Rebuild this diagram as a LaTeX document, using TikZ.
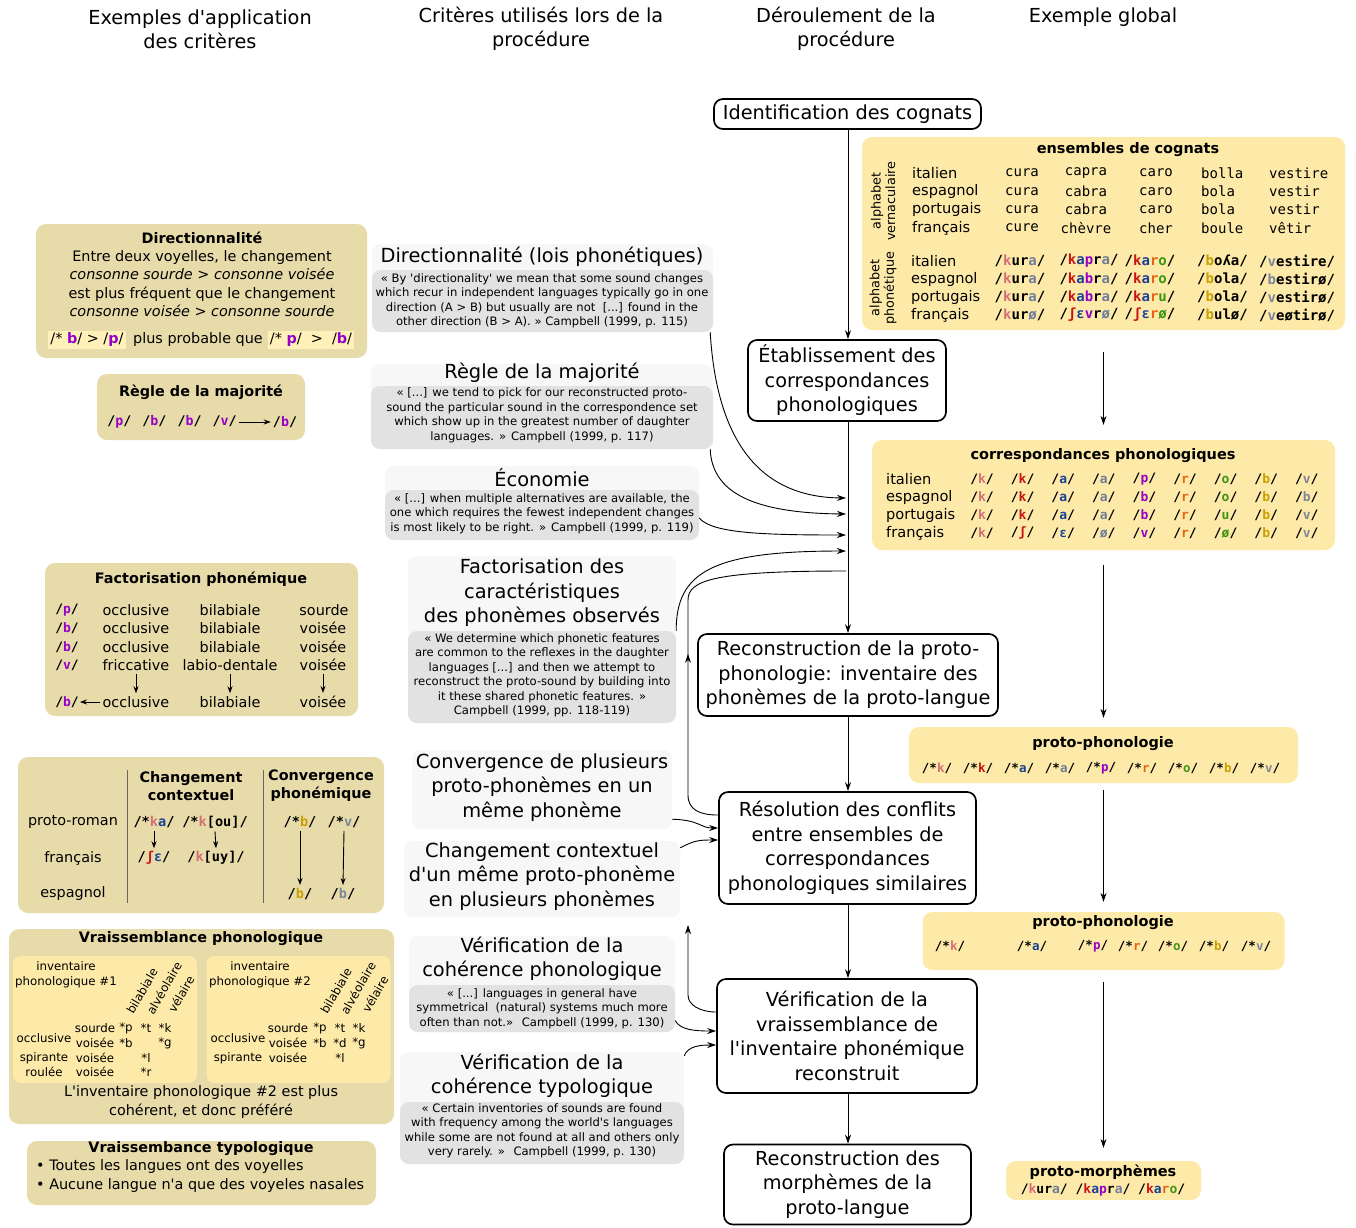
\documentclass[tikz,border=0pt]{standalone}
\usepackage{fontspec}
\setmainfont{DejaVu Sans}
\newfontfamily\monof{DejaVu Sans Mono}
\usetikzlibrary{arrows.meta,decorations.markings}
\definecolor{tanbg}{RGB}{232,219,170}
\definecolor{yelbg}{RGB}{254,234,168}
\definecolor{hlbg}{RGB}{255,241,185}
\definecolor{ttlbg}{RGB}{247,247,247}
\definecolor{qbg}{RGB}{226,226,226}
\definecolor{cKa}{RGB}{214,110,120}
\definecolor{cKb}{RGB}{200,20,20}
\definecolor{cAa}{RGB}{25,65,150}
\definecolor{cAb}{RGB}{110,125,155}
\definecolor{cP}{RGB}{150,0,200}
\definecolor{cR}{RGB}{230,100,20}
\definecolor{cO}{RGB}{60,150,20}
\definecolor{cB}{RGB}{200,160,0}
\definecolor{cV}{RGB}{125,135,155}
\newcommand\fsz[2]{\fontsize{#1}{#2}\selectfont}
\newcommand\cc[2]{\textcolor{#1}{#2}}
\newcommand\q{\textquotesingle}
\newcommand\crow[4]{\foreach \t [count=\j] in {#4} {\node[phc] (#1-\j) at ({#2+40.6*\j},#3) {/\t/};}}
\begin{document}
\begin{tikzpicture}[x=1pt,y=-1pt,
  hdr/.style={align=center, font=\fsz{19.3}{24}, inner sep=0pt},
  flow/.style={draw, line width=1.7pt, rounded corners=9pt, fill=white, align=center, font=\fsz{19.3}{24.5}, inner sep=0pt},
  tanbox/.style={fill=tanbg, rounded corners=10pt, inner sep=0pt},
  yelbox/.style={fill=yelbg, rounded corners=10pt, inner sep=0pt},
  ttlbox/.style={fill=ttlbg, rounded corners=9pt, inner sep=0pt},
  qbox/.style={fill=qbg, rounded corners=9pt, inner sep=0pt},
  ctitle/.style={align=center, font=\fsz{19.4}{24.5}, inner sep=0pt},
  qtext/.style={align=center, font=\fsz{11.6}{14.5}, inner sep=0pt},
  ltxt/.style={align=center, font=\fsz{14.4}{18.3}, inner sep=0pt},
  lbold/.style={align=center, font=\fsz{14.4}{18}\bfseries, inner sep=0pt},
  rbold/.style={align=center, font=\fsz{14.5}{18}\bfseries, inner sep=0pt},
  rtxt/.style={font=\fsz{14.6}{18}, inner sep=0pt},
  small/.style={align=center, font=\fsz{11.8}{15}, inner sep=0pt},
  rlab/.style={align=center, font=\fsz{12.8}{14.5}, inner sep=0pt},
  phl/.style={font=\monof\bfseries\fsz{13}{16}, inner sep=0pt},
  phk/.style={font=\monof\bfseries\fsz{13.6}{16}, inner sep=0pt},
  phc/.style={font=\monof\bfseries\fsz{13}{16}, inner sep=0pt},
  php/.style={font=\monof\bfseries\fsz{12.5}{16}, inner sep=0pt},
  vern/.style={font=\monof\fsz{14}{18}, inner sep=0pt},
  phb/.style={font=\monof\bfseries\fsz{14}{18}, inner sep=0pt},
  arr/.style={-{Stealth[length=9pt,width=6pt]}, line width=0.9pt},
  arrs/.style={-{Stealth[length=7pt,width=5pt]}, line width=0.9pt},
  midarr/.style={decoration={markings, mark=at position #1 with {\arrow{Stealth[length=9pt,width=6pt]}}}, postaction={decorate}}
]
\useasboundingbox (0,0) rectangle (1356,1227);

% ---------------- headers
\node[hdr] (h1) at (200,29) {Exemples d\q application\\des critères};
\node[hdr] (h2) at (541,29) {Critères utilisés lors de la\\procédure};
\node[hdr] (h3) at (846,29) {Déroulement de la\\procédure};
\node[hdr] (h4) at (1103,17) {Exemple global};

% ---------------- flow column
\node[flow, minimum width=267, minimum height=30] (f1) at (847.5,114) {Identification des cognats};
\node[flow, minimum width=198, minimum height=81] (f2) at (847,380.5) {Établissement des\\correspondances\\phonologiques};
\node[flow, minimum width=300, minimum height=82] (f3) at (848,675) {Reconstruction de la proto-\\phonologie: inventaire des\\phonèmes de la proto-langue};
\node[flow, minimum width=257, minimum height=112] (f4) at (847.5,848) {Résolution des conflits\\entre ensembles de\\correspondances\\phonologiques similaires};
\node[flow, minimum width=260, minimum height=114] (f5) at (847,1036) {Vérification de la\\vraissemblance de\\l\q inventaire phonémique\\reconstruit};
\node[flow, minimum width=247, minimum height=80] (f6) at (847.5,1184.5) {Reconstruction des\\morphèmes de la\\proto-langue};

\draw[arr] (f1.south -| 848,0) -- (f2.north -| 848,0);
\draw[arr] (f2.south -| 848,0) -- (f3.north -| 848,0);
\draw[arr] (f3.south -| 848,0) -- (f4.north -| 848,0);
\draw[arr] (f4.south -| 848,0) -- (f5.north -| 848,0);
\draw[arr] (f5.south -| 848,0) -- (f6.north -| 848,0);

% ---------------- criteria column
\node[ttlbox, minimum width=341, minimum height=88] (cdir) at (542.5,288) {};
\node[qbox, minimum width=341, minimum height=62] (cdirq) at (542.5,301) {};
\node[ctitle] (cdirt) at (542,257) {Directionnalité (lois phonétiques)};
\node[qtext] (cdirx) at (542,301) {« By \q directionality\q{} we mean that some sound changes\\which recur in independent languages typically go in one\\direction (A > B) but usually are not \ [...] found in the\\other direction (B > A). » Campbell (1999, p. 115)};

\node[ttlbox, minimum width=342, minimum height=85] (cmaj) at (542,406.5) {};
\node[qbox, minimum width=342, minimum height=63] (cmajq) at (542,417.5) {};
\node[ctitle] (cmajt) at (542,373) {Règle de la majorité};
\node[qtext] (cmajx) at (542,415.5) {« [...] we tend to pick for our reconstructed proto-\\sound the particular sound in the correspondence set\\which show up in the greatest number of daughter\\languages. » Campbell (1999, p. 117)};

\node[ttlbox, minimum width=314, minimum height=74] (ceco) at (542,503) {};
\node[qbox, minimum width=314, minimum height=50] (cecoq) at (542,515) {};
\node[ctitle] (cecot) at (542,478) {Économie};
\node[qtext] (cecox) at (542,513.5) {« [...] when multiple alternatives are available, the\\one which requires the fewest independent changes\\is most likely to be right. » Campbell (1999, p. 119)};

\node[ttlbox, minimum width=268, minimum height=167] (cfac) at (542,639.5) {};
\node[qbox, minimum width=268, minimum height=92] (cfacq) at (542,677) {};
\node[ctitle] (cfact) at (542,593) {Factorisation des\\caractéristiques\\des phonèmes observés};
\node[qtext] (cfacx) at (542,675.5) {« We determine which phonetic features\\are common to the reflexes in the daughter\\languages [...] and then we attempt to\\reconstruct the proto-sound by building into\\it these shared phonetic features. »\\Campbell (1999, pp. 118-119)};

\node[ttlbox, minimum width=260, minimum height=79] (cconv) at (542,789.5) {};
\node[ctitle] (cconvt) at (542,787.5) {Convergence de plusieurs\\proto-phonèmes en un\\même phonème};

\node[ttlbox, minimum width=276, minimum height=76] (cchg) at (542,879) {};
\node[ctitle] (cchgt) at (542,876.5) {Changement contextuel\\d\q un même proto-phonème\\en plusieurs phonèmes};

\node[ttlbox, minimum width=266, minimum height=96] (cvph) at (542,984) {};
\node[qbox, minimum width=266, minimum height=47] (cvphq) at (542,1008.5) {};
\node[ctitle] (cvpht) at (542,958.5) {Vérification de la\\cohérence phonologique};
\node[qtext] (cvphx) at (542,1008.5) {« [...] languages in general have\\symmetrical \ (natural) systems much more\\often than not.» \ Campbell (1999, p. 130)};

\node[ttlbox, minimum width=284, minimum height=112] (cvty) at (542,1108) {};
\node[qbox, minimum width=284, minimum height=62] (cvtyq) at (542,1133) {};
\node[ctitle] (cvtyt) at (542,1075.5) {Vérification de la\\cohérence typologique};
\node[qtext] (cvtyx) at (542,1131) {« Certain inventories of sounds are found\\with frequency among the world\q s languages\\while some are not found at all and others only\\very rarely. » \ Campbell (1999, p. 130)};

% connectors from criteria
\coordinate (j1) at (846,498);
\coordinate (j2) at (846,514);
\coordinate (j3) at (846,535);
\coordinate (j4) at (846,551);
\coordinate (j5) at (846,571);
\draw[arr] ([xshift=-3pt]cdirq.south east) .. controls (716,430) and (752,497) .. (j1);
\draw[arr] ([xshift=-3pt]cmajq.south east) .. controls (712,492) and (752,513) .. (j2);
\draw[arr] ([yshift=-3pt]cecoq.east) .. controls (712,533) and (760,535) .. (j3);
\draw[arr] (cfacq.north east) .. controls (676,572) and (712,551) .. (j4);
\draw[arr] ([yshift=10pt]cconv.south east) .. controls (700,820) and (700,828) .. ([yshift=20pt]f4.west);
\draw[arr] ([yshift=-7pt]cchg.north east) .. controls (695,840) and (700,840) .. ([yshift=8pt]f4.west);
\draw[arr] ([yshift=-12pt]cvphq.east) .. controls (680,1030) and (695,1031) .. ([yshift=5pt]f5.west);
\draw[arr] ([yshift=-4pt]cvty.north east) .. controls (688,1046) and (700,1045) .. ([yshift=-9pt]f5.west);
% feedback
\draw[line width=0.9pt, midarr=0.45] ([yshift=33pt]f4.west) .. controls (700,815) and (688,810) .. (688,795) -- (688,600) .. controls (688,580) and (715,571) .. (j5);
\draw[arr] ([yshift=24pt]f5.west) .. controls (700,1012) and (688,1005) .. (688,995) -- (688,925);

% ---------------- left column
\node[tanbox, minimum width=331, minimum height=134] (ldir) at (201.5,291) {};
\node[lbold] (ldirt) at (202,238) {Directionnalité};
\node[ltxt] (ldirx) at (202,283.5) {Entre deux voyelles, le changement\\\textit{consonne sourde > consonne voisée}\\est plus fréquent que le changement\\\textit{consonne voisée > consonne sourde}};
\node[fill=hlbg, inner sep=2pt, font=\fsz{14.4}{16}] (hla) at (87,340) {/* \cc{cP}{\textbf{b}}/ > /\cc{cP}{\textbf{p}}/};
\node[font=\fsz{14.4}{16}, inner sep=0pt] (hlplus) at (198,340) {plus probable que};
\node[fill=hlbg, inner sep=2pt, font=\fsz{14.4}{16}] (hlb) at (311,340) {/* \cc{cP}{\textbf{p}}/ \ > \ /\cc{cP}{\textbf{b}}/};

\node[tanbox, minimum width=208, minimum height=66] (lmaj) at (201,407) {};
\node[lbold] (lmajt) at (201,392) {Règle de la majorité};
\node[phl, font=\monof\bfseries\fsz{13.3}{16}] (lmajl) at (172,422) {/\cc{cP}{p}/\hspace{11pt}/\cc{cP}{b}/\hspace{11pt}/\cc{cP}{b}/\hspace{11pt}/\cc{cP}{v}/};
\node[phl, font=\monof\bfseries\fsz{13.3}{16}] (lmajr) at (285,422) {/\cc{cP}{b}/};
\draw[arrs] ([xshift=2pt]lmajl.east) -- ([xshift=-2pt]lmajr.west);

\node[tanbox, minimum width=313, minimum height=153] (lfac) at (201.5,639.5) {};
\node[lbold] (lfact) at (201,579) {Factorisation phonémique};
\node[phl] (fp1) at (67,610) {/\cc{cP}{p}/};
\node[phl] (fp2) at (67,628) {/\cc{cP}{b}/};
\node[phl] (fp3) at (67,647) {/\cc{cP}{b}/};
\node[phl] (fp4) at (67,665) {/\cc{cP}{v}/};
\node[phl] (fp5) at (67,702) {/\cc{cP}{b}/};
\node[ltxt] (fo1) at (136,610) {occlusive};
\node[ltxt] (fo2) at (136,628) {occlusive};
\node[ltxt] (fo3) at (136,647) {occlusive};
\node[ltxt] (fo4) at (136,665) {friccative};
\node[ltxt] (fo5) at (136,702) {occlusive};
\node[ltxt] (fb1) at (230,610) {bilabiale};
\node[ltxt] (fb2) at (230,628) {bilabiale};
\node[ltxt] (fb3) at (230,647) {bilabiale};
\node[ltxt] (fb4) at (230,665) {labio-dentale};
\node[ltxt] (fb5) at (230,702) {bilabiale};
\node[ltxt] (fs1) at (324,610) {sourde};
\node[ltxt] (fs2) at (323,628) {voisée};
\node[ltxt] (fs3) at (323,647) {voisée};
\node[ltxt] (fs4) at (323,665) {voisée};
\node[ltxt] (fs5) at (323,702) {voisée};
\draw[arrs] ([yshift=-3pt]fo4.south) -- ([yshift=3pt]fo5.north);
\draw[arrs] ([yshift=-3pt]fb4.south) -- ([yshift=3pt]fb5.north);
\draw[arrs] ([yshift=-3pt]fs4.south) -- ([yshift=3pt]fs5.north);
\draw[arrs] ([xshift=-2pt]fo5.west) -- ([xshift=1pt]fp5.east);

\node[tanbox, minimum width=366, minimum height=156] (lchg) at (201,835) {};
\draw[line width=1pt, black!60] (127,770) -- (127,903);
\draw[line width=1pt, black!60] (263,770) -- (263,903);
\node[lbold] (lchgt) at (191,786) {Changement\\contextuel};
\node[lbold] (lcvgt) at (321,786) {Convergence\\phonémique};
\node[ltxt] (lpr) at (73,822) {proto-roman};
\node[ltxt] (lfr) at (73,858) {français};
\node[ltxt] (les) at (73,894) {espagnol};
\node[phk] (n1) at (154,822) {/*\cc{cKa}{k}\cc{cAa}{a}/};
\node[phk] (n2) at (215,822) {/*\cc{cKa}{k}[ou]/};
\node[phk] (n3) at (154,858) {/\cc{cKb}{ʃ}\cc{cAa}{ɛ}/};
\node[phk] (n4) at (216,858) {/\cc{cKa}{k}[uy]/};
\node[phk] (n5) at (300,822) {/*\cc{cB}{b}/};
\node[phk] (n6) at (344,822) {/*\cc{cV}{v}/};
\node[phk] (n7) at (300,894) {/\cc{cB}{b}/};
\node[phk] (n8) at (343,894) {/\cc{cV}{b}/};
\draw[arrs] ([yshift=-3pt]n1.south) -- ([yshift=3pt]n3.north);
\draw[arrs] ([yshift=-3pt]n2.south) -- ([yshift=3pt]n4.north);
\draw[arrs] ([yshift=-3pt]n5.south) -- ([yshift=3pt]n7.north);
\draw[arrs] ([yshift=-3pt]n6.south) -- ([yshift=3pt]n8.north);

\node[tanbox, minimum width=385, minimum height=195] (lvph) at (201.5,1026.5) {};
\node[lbold] (lvpht) at (201,939) {Vraissemblance phonologique};
\node[yelbox, rounded corners=8pt, minimum width=184, minimum height=127] (inv1) at (105,1019.5) {};
\node[yelbox, rounded corners=8pt, minimum width=184, minimum height=127] (inv2) at (298.5,1019.5) {};
\node[small] (i1t) at (66,974.5) {inventaire\\phonologique \#1};
\node[small, rotate=60] (i1a) at (142,991) {bilabiale};
\node[small, rotate=60] (i1b) at (164,988) {alvéolaire};
\node[small, rotate=60] (i1c) at (181,994) {vélaire};
\node[small] (i1r1) at (44,1038) {occlusive};
\node[small] (i1r2) at (44,1058) {spirante};
\node[small] (i1r3) at (44,1072) {roulée};
\node[small] (i1s1) at (95,1028) {sourde};
\node[small] (i1s2) at (95,1043) {voisée};
\node[small] (i1s3) at (95,1058) {voisée};
\node[small] (i1s4) at (95,1072) {voisée};
\node[small] (i1p) at (126,1028) {*p};
\node[small] (i1t2) at (146,1028) {*t};
\node[small] (i1k) at (165,1028) {*k};
\node[small] (i1b2) at (126,1043) {*b};
\node[small] (i1g) at (165,1043) {*g};
\node[small] (i1l) at (146,1058) {*l};
\node[small] (i1rr) at (146,1072) {*r};
\node[small] (i2t) at (260,974.5) {inventaire\\phonologique \#2};
\node[small, rotate=60] (i2a) at (336,991) {bilabiale};
\node[small, rotate=60] (i2b) at (358,988) {alvéolaire};
\node[small, rotate=60] (i2c) at (375,994) {vélaire};
\node[small] (i2r1) at (238,1038) {occlusive};
\node[small] (i2r2) at (238,1058) {spirante};
\node[small] (i2s1) at (288,1028) {sourde};
\node[small] (i2s2) at (288,1043) {voisée};
\node[small] (i2s3) at (288,1058) {voisée};
\node[small] (i2p) at (320,1028) {*p};
\node[small] (i2t2) at (340,1028) {*t};
\node[small] (i2k) at (359,1028) {*k};
\node[small] (i2b2) at (320,1043) {*b};
\node[small] (i2d) at (340,1043) {*d};
\node[small] (i2g) at (359,1043) {*g};
\node[small] (i2l) at (340,1058) {*l};
\node[ltxt] (lvphx) at (201,1102) {L\q inventaire phonologique \#2 est plus\\cohérent, et donc préféré};

\node[tanbox, minimum width=349, minimum height=64] (lvty) at (201.5,1173) {};
\node[lbold] (lvtyt) at (201,1149) {Vraissembance typologique};
\node[ltxt, anchor=west] (lvty1) at (36,1167) {• Toutes les langues ont des voyelles};
\node[ltxt, anchor=west] (lvty2) at (36,1186) {• Aucune langue n\q a que des voyeles nasales};

% ---------------- right column
\node[yelbox, minimum width=483, minimum height=193] (cog) at (1103.5,233.5) {};
\node[rbold] (cogt) at (1128,150) {ensembles de cognats};
\node[rlab, rotate=90] (cogva) at (883,201) {alphabet\\vernaculaire};
\node[rlab, rotate=90] (cogph) at (883,288) {alphabet\\phonétique};
\foreach \l/\a/\b/\c/\d/\e [count=\i] in {italien/cura/capra/caro/bolla/vestire, espagnol/cura/cabra/caro/bola/vestir, portugais/cura/cabra/caro/bola/vestir, français/cure/chèvre/cher/boule/vêtir} {
  \pgfmathsetmacro\yy{154.7+18.3*\i}
  \node[rtxt, anchor=west] (vl\i) at (912,\yy) {\l};
  \node[vern] (va\i) at (1022,\yy) {\a};
  \node[vern] (vb\i) at (1086,\yy) {\b};
  \node[vern] (vc\i) at (1156,\yy) {\c};
  \node[vern, anchor=west] (vd\i) at (1201,\yy) {\d};
  \node[vern, anchor=west] (ve\i) at (1269,\yy) {\e};
}
\foreach \l/\a/\b/\c/\d/\e [count=\i] in {
  italien/{\cc{cKa}{k}ur\cc{cAb}{a}}/{\cc{cKb}{k}\cc{cAa}{a}\cc{cP}{p}r\cc{cAb}{a}}/{\cc{cKb}{k}\cc{cAa}{a}\cc{cR}{r}\cc{cO}{o}}/{\cc{cB}{b}oʎa}/{\cc{cV}{v}estire},
  espagnol/{\cc{cKa}{k}ur\cc{cAb}{a}}/{\cc{cKb}{k}\cc{cAa}{a}\cc{cP}{b}r\cc{cAb}{a}}/{\cc{cKb}{k}\cc{cAa}{a}\cc{cR}{r}\cc{cO}{o}}/{\cc{cB}{b}ola}/{\cc{cV}{b}estirø},
  portugais/{\cc{cKa}{k}ur\cc{cAb}{a}}/{\cc{cKb}{k}\cc{cAa}{a}\cc{cP}{b}r\cc{cAb}{a}}/{\cc{cKb}{k}\cc{cAa}{a}\cc{cR}{r}\cc{cO}{u}}/{\cc{cB}{b}ola}/{\cc{cV}{v}estirø},
  français/{\cc{cKa}{k}ur\cc{cAb}{ø}}/{\cc{cKb}{ʃ}\cc{cAa}{ɛ}\cc{cP}{v}r\cc{cAb}{ø}}/{\cc{cKb}{ʃ}\cc{cAa}{ɛ}\cc{cR}{r}\cc{cO}{ø}}/{\cc{cB}{b}ulø}/{\cc{cV}{v}eøtirø}} {
  \pgfmathsetmacro\yy{243+18*\i}
  \node[rtxt, anchor=west] (pl\i) at (911,\yy) {\l};
  \node[phb] (pa\i) at (1020,\yy) {/\a/};
  \node[phb] (pb\i) at (1089,\yy) {/\b/};
  \node[phb] (pc\i) at (1150,\yy) {/\c/};
  \node[phb, anchor=west] (pd\i) at (1197,\yy) {/\d/};
  \node[phb, anchor=west] (pe\i) at (1259,\yy) {/\e/};
}

\node[yelbox, minimum width=463, minimum height=110] (corr) at (1103.5,495) {};
\node[rbold] (corrt) at (1103,456) {correspondances phonologiques};
\node[rtxt, anchor=west] (cl1) at (886,479) {italien};
\node[rtxt, anchor=west] (cl2) at (886,497) {espagnol};
\node[rtxt, anchor=west] (cl3) at (886,515) {portugais};
\node[rtxt, anchor=west] (cl4) at (886,533) {français};
\crow{cra}{941.4}{479}{{\cc{cKa}{k}},{\cc{cKb}{k}},{\cc{cAa}{a}},{\cc{cAb}{a}},{\cc{cP}{p}},{\cc{cR}{r}},{\cc{cO}{o}},{\cc{cB}{b}},{\cc{cV}{v}}}
\crow{crb}{941.4}{497}{{\cc{cKa}{k}},{\cc{cKb}{k}},{\cc{cAa}{a}},{\cc{cAb}{a}},{\cc{cP}{b}},{\cc{cR}{r}},{\cc{cO}{o}},{\cc{cB}{b}},{\cc{cV}{b}}}
\crow{crc}{941.4}{515}{{\cc{cKa}{k}},{\cc{cKb}{k}},{\cc{cAa}{a}},{\cc{cAb}{a}},{\cc{cP}{b}},{\cc{cR}{r}},{\cc{cO}{u}},{\cc{cB}{b}},{\cc{cV}{v}}}
\crow{crd}{941.4}{533}{{\cc{cKa}{k}},{\cc{cKb}{ʃ}},{\cc{cAa}{ɛ}},{\cc{cAb}{ø}},{\cc{cP}{v}},{\cc{cR}{r}},{\cc{cO}{ø}},{\cc{cB}{b}},{\cc{cV}{v}}}

\node[yelbox, minimum width=389, minimum height=56] (prot1) at (1103.5,755) {};
\node[rbold] (prot1t) at (1103,744) {proto-phonologie};
\foreach \t [count=\j] in {{\cc{cKa}{k}},{\cc{cKb}{k}},{\cc{cAa}{a}},{\cc{cAb}{a}},{\cc{cP}{p}},{\cc{cR}{r}},{\cc{cO}{o}},{\cc{cB}{b}},{\cc{cV}{v}}}
  \node[php] (pp\j) at ({896+41*\j},768) {/*\t/};

\node[yelbox, minimum width=362, minimum height=58] (prot2) at (1103.5,941) {};
\node[rbold] (prot2t) at (1103,923) {proto-phonologie};
\foreach \t/\xx [count=\j] in {{\cc{cKa}{k}}/950,{\cc{cAa}{a}}/1032,{\cc{cP}{p}}/1093,{\cc{cR}{r}}/1133,{\cc{cO}{o}}/1173,{\cc{cB}{b}}/1214,{\cc{cV}{v}}/1256}
  \node[php] (pq\j) at (\xx,946) {/*\t/};

\node[yelbox, minimum width=195, minimum height=39] (morph) at (1103.5,1180.5) {};
\node[rbold] (morpht) at (1103,1172) {proto-morphèmes};
\node[phc] (morphx) at (1103,1190) {/\cc{cKa}{k}ur\cc{cAb}{a}/ /\cc{cKb}{k}\cc{cAa}{a}\cc{cP}{p}r\cc{cAb}{a}/ /\cc{cKb}{k}\cc{cAa}{a}\cc{cR}{r}\cc{cO}{o}/};

\draw[arr, shorten <=22pt, shorten >=15pt] (cog.south) -- (corr.north);
\draw[arr, shorten <=15pt, shorten >=9pt] (corr.south) -- (prot1.north);
\draw[arr, shorten <=7pt, shorten >=10pt] (prot1.south) -- (prot2.north);
\draw[arr, shorten <=12pt, shorten >=13pt] (prot2.south) -- (morph.north);
\end{tikzpicture}
\end{document}
